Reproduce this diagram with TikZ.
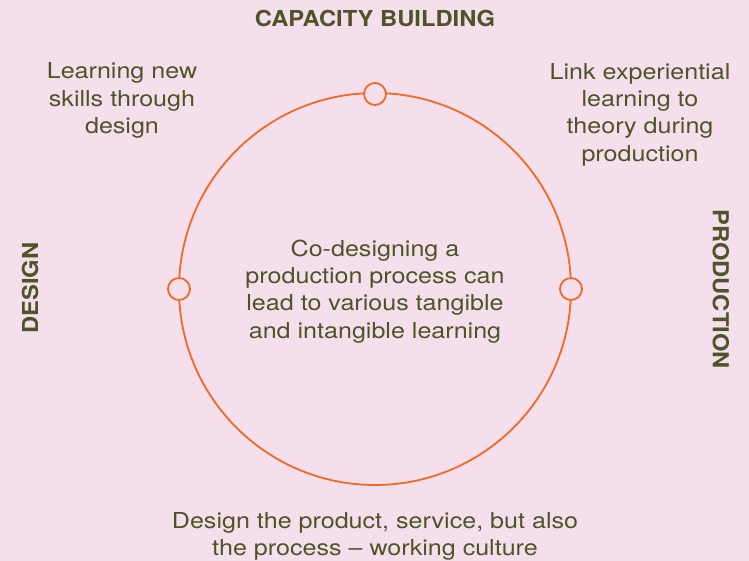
\documentclass[tikz,border=0pt]{standalone}
\usepackage{fontspec}
\setmainfont{TeX Gyre Heros}
\newfontfamily\bodyfont[FakeStretch=1.14]{TeX Gyre Heros}
\newfontfamily\headfont[FakeStretch=1.08]{TeX Gyre Heros}
\definecolor{bgpink}{HTML}{F5DFEC}
\definecolor{ring}{HTML}{F06A22}
\definecolor{olive}{HTML}{4E5427}
\begin{document}
\begin{tikzpicture}[x=1pt,y=-1pt,
  txt/.style={text=olive,font=\bodyfont\fontsize{22}{27.3}\selectfont,align=center,inner sep=0pt},
  head/.style={text=olive,font=\headfont\fontsize{22}{24}\selectfont\bfseries,inner sep=0pt},
  knob/.style={circle,draw=ring,line width=1.8pt,fill=bgpink,minimum size=22pt,inner sep=0pt}]
\fill[bgpink] (0,0) rectangle (749,561);
\useasboundingbox (0,0) rectangle (749,561);
\draw[ring,line width=1.8pt] (375,289) circle[radius=196];
\node[knob] (top) at (375,94) {};
\node[knob] (left) at (179,289) {};
\node[knob] (right) at (571,289) {};
\node[head] (cap) at (375,18) {CAPACITY BUILDING};
\node[head,rotate=90] (design) at (30,288) {DESIGN};
\node[head,rotate=-90] (prod) at (721,289) {PRODUCTION};
\node[txt] (learn) at (122,100.5) {Learning new\\skills through\\design};
\node[txt] (link) at (640,114.5) {Link experiential\\learning to\\theory during\\production};
\node[txt] (centre) at (375,291.5) {Co-designing a\\production process can\\lead to various tangible\\and intangible learning};
\node[txt] (bottom) at (375,536.5) {Design the product, service, but also\\the process – working culture};
\end{tikzpicture}
\end{document}
